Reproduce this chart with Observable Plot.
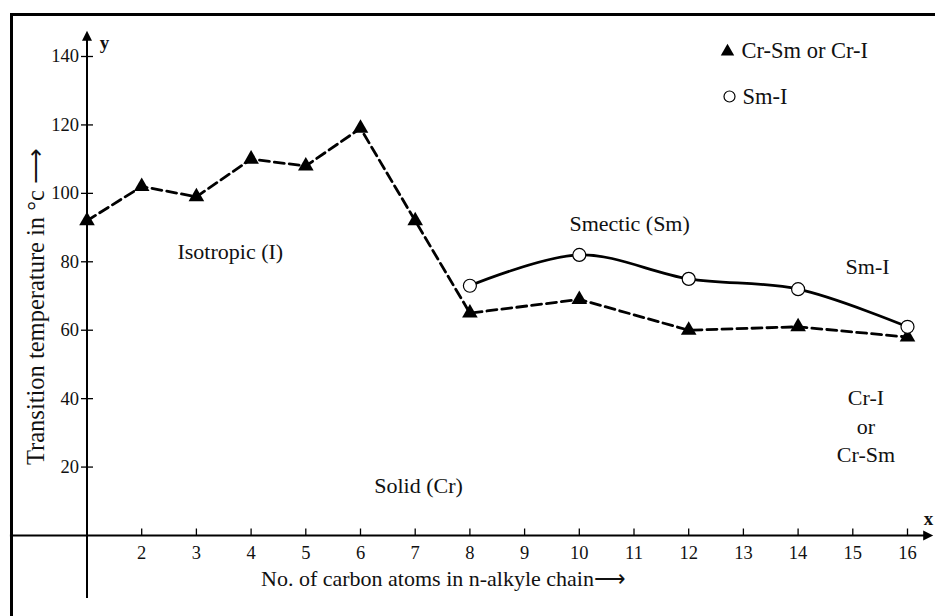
<!DOCTYPE html>
<html><head><meta charset="utf-8">
<script src="https://cdn.jsdelivr.net/npm/d3@7"></script>
<script src="https://cdn.jsdelivr.net/npm/@observablehq/plot@0.6"></script>
<style>
body{margin:0;background:#fff;}
#wrap{position:relative;width:935px;height:616px;overflow:hidden;}
#frame{position:absolute;left:10px;top:13px;right:-10px;bottom:-10px;border-top:3px solid #000;border-left:3px solid #000;pointer-events:none;}
svg{display:block}
</style></head><body>
<div id="wrap"><div id="chart"></div><div id="frame"></div></div>
<script>
// Data
const carbonCr = [1, 2, 3, 4, 5, 6, 7, 8, 10, 12, 14, 16];
const tempCr   = [92, 102, 99, 110, 108, 119, 92, 65, 69, 60, 61, 58];
const carbonSm = [8, 10, 12, 14, 16];
const tempSm   = [73, 82, 75, 72, 61];
const xTicks = [2, 3, 4, 5, 6, 7, 8, 9, 10, 11, 12, 13, 14, 15, 16];
const yTicks = [20, 40, 60, 80, 100, 120, 140];
const legendLabels = ["Cr-Sm or Cr-I", "Sm-I"];
const regionLabels = ["Isotropic (I)", "Smectic (Sm)", "Sm-I", "Cr-I\nor\nCr-Sm", "Solid (Cr)"];
const xTitle = "No. of carbon atoms in n-alkyle chain\u27F6";
const yTitle = "Transition temperature in \u00B0c \u27F6";

const crData = carbonCr.map((c, i) => ({c, t: tempCr[i]}));
const smData = carbonSm.map((c, i) => ({c, t: tempSm[i]}));

const font = "'Liberation Serif', 'Times New Roman', serif";
const hTick = {draw(ctx){ ctx.moveTo(-6, 0); ctx.lineTo(6, 0); }};
const vTick = {draw(ctx){ ctx.moveTo(0, 0); ctx.lineTo(0, -7); }};
const arrowRight = {draw(ctx){ ctx.moveTo(0, 0); ctx.lineTo(-10, -5); ctx.lineTo(-10, 5); ctx.closePath(); }};
const arrowUp = {draw(ctx){ ctx.moveTo(0, 0); ctx.lineTo(-5, 10); ctx.lineTo(5, 10); ctx.closePath(); }};

const txt = (label, x, y, opts = {}) => Plot.text([label], {x: () => x, y: () => y, text: d => d,
  fontSize: 22, fill: "#111", textAnchor: "middle", lineAnchor: "middle", lineHeight: 1.3, ...opts});
const ftxt = (label, dx, dy, opts = {}) => Plot.text([label], {frameAnchor: "top-left", dx, dy, text: d => d,
  fontSize: 22, fill: "#111", textAnchor: "middle", lineAnchor: "middle", ...opts});

const chart = Plot.plot({
  width: 935, height: 616,
  marginTop: 0, marginRight: 0, marginBottom: 0, marginLeft: 0,
  style: {fontFamily: font, background: "transparent", overflow: "visible"},
  x: {type: "linear", domain: [1, 16], range: [86.5, 907], axis: null},
  y: {type: "linear", domain: [0, 140], range: [535, 56], axis: null},
  marks: [
    // axes
    Plot.ruleY([0], {x1: -0.4, x2: 16.35, stroke: "black", strokeWidth: 2}),
    Plot.ruleX([1], {y1: -18.4, y2: 145, stroke: "black", strokeWidth: 2}),
    Plot.dot([16.47], {x: d => d, y: () => 0, symbol: arrowRight, fill: "black", stroke: "none"}),
    Plot.dot([147.5], {x: () => 1, y: d => d, symbol: arrowUp, fill: "black", stroke: "none"}),
    Plot.dot(yTicks, {x: () => 1, y: d => d, symbol: hTick, stroke: "black", strokeWidth: 1.3, fill: "none"}),
    Plot.dot(xTicks, {x: d => d, y: () => 0, symbol: vTick, stroke: "black", strokeWidth: 1.3, fill: "none"}),
    Plot.text(yTicks, {x: () => 1, y: d => d, text: d => String(d), textAnchor: "end", dx: -8, fontSize: 18.5, fill: "#111"}),
    Plot.text(xTicks, {x: d => d, y: () => 0, text: d => String(d), textAnchor: "middle", dy: 18, fontSize: 18.5, fill: "#111"}),
    ftxt("x", 928, 518, {fontWeight: "bold", fontSize: 19}),
    ftxt("y", 104, 42, {fontWeight: "bold", fontSize: 19}),
    ftxt(xTitle, 443, 578, {fontSize: 22}),
    ftxt(yTitle, 36, 306, {fontSize: 24.5, rotate: -90}),
    // series
    Plot.line(crData, {x: "c", y: "t", stroke: "black", strokeWidth: 2.8, strokeDasharray: "10,5"}),
    Plot.line(smData, {x: "c", y: "t", stroke: "black", strokeWidth: 2.7, curve: "catmull-rom"}),
    Plot.dot(crData, {x: "c", y: "t", symbol: "triangle", r: 5.8, fill: "black", stroke: "none"}),
    Plot.dot(smData, {x: "c", y: "t", symbol: "circle", r: 6.5, fill: "white", stroke: "black", strokeWidth: 1.2}),
    // region annotations
    txt(regionLabels[0], 3.62, 83.6),
    txt(regionLabels[1], 10.92, 91.8),
    txt(regionLabels[2], 15.27, 79.2),
    txt(regionLabels[3], 15.24, 32.4),
    txt(regionLabels[4], 7.06, 15.2),
    // legend
    Plot.dot([legendLabels[0]], {frameAnchor: "top-left", dx: 727, dy: 51, symbol: "triangle", r: 5, fill: "black", stroke: "none"}),
    ftxt(legendLabels[0], 741, 50, {textAnchor: "start", fontSize: 22.5}),
    Plot.dot([legendLabels[1]], {frameAnchor: "top-left", dx: 729, dy: 96, symbol: "circle", r: 5.5, fill: "white", stroke: "black", strokeWidth: 1.2}),
    ftxt(legendLabels[1], 742, 96, {textAnchor: "start", fontSize: 22.5})
  ]
});
document.getElementById("chart").appendChild(chart);
</script>
</body></html>
